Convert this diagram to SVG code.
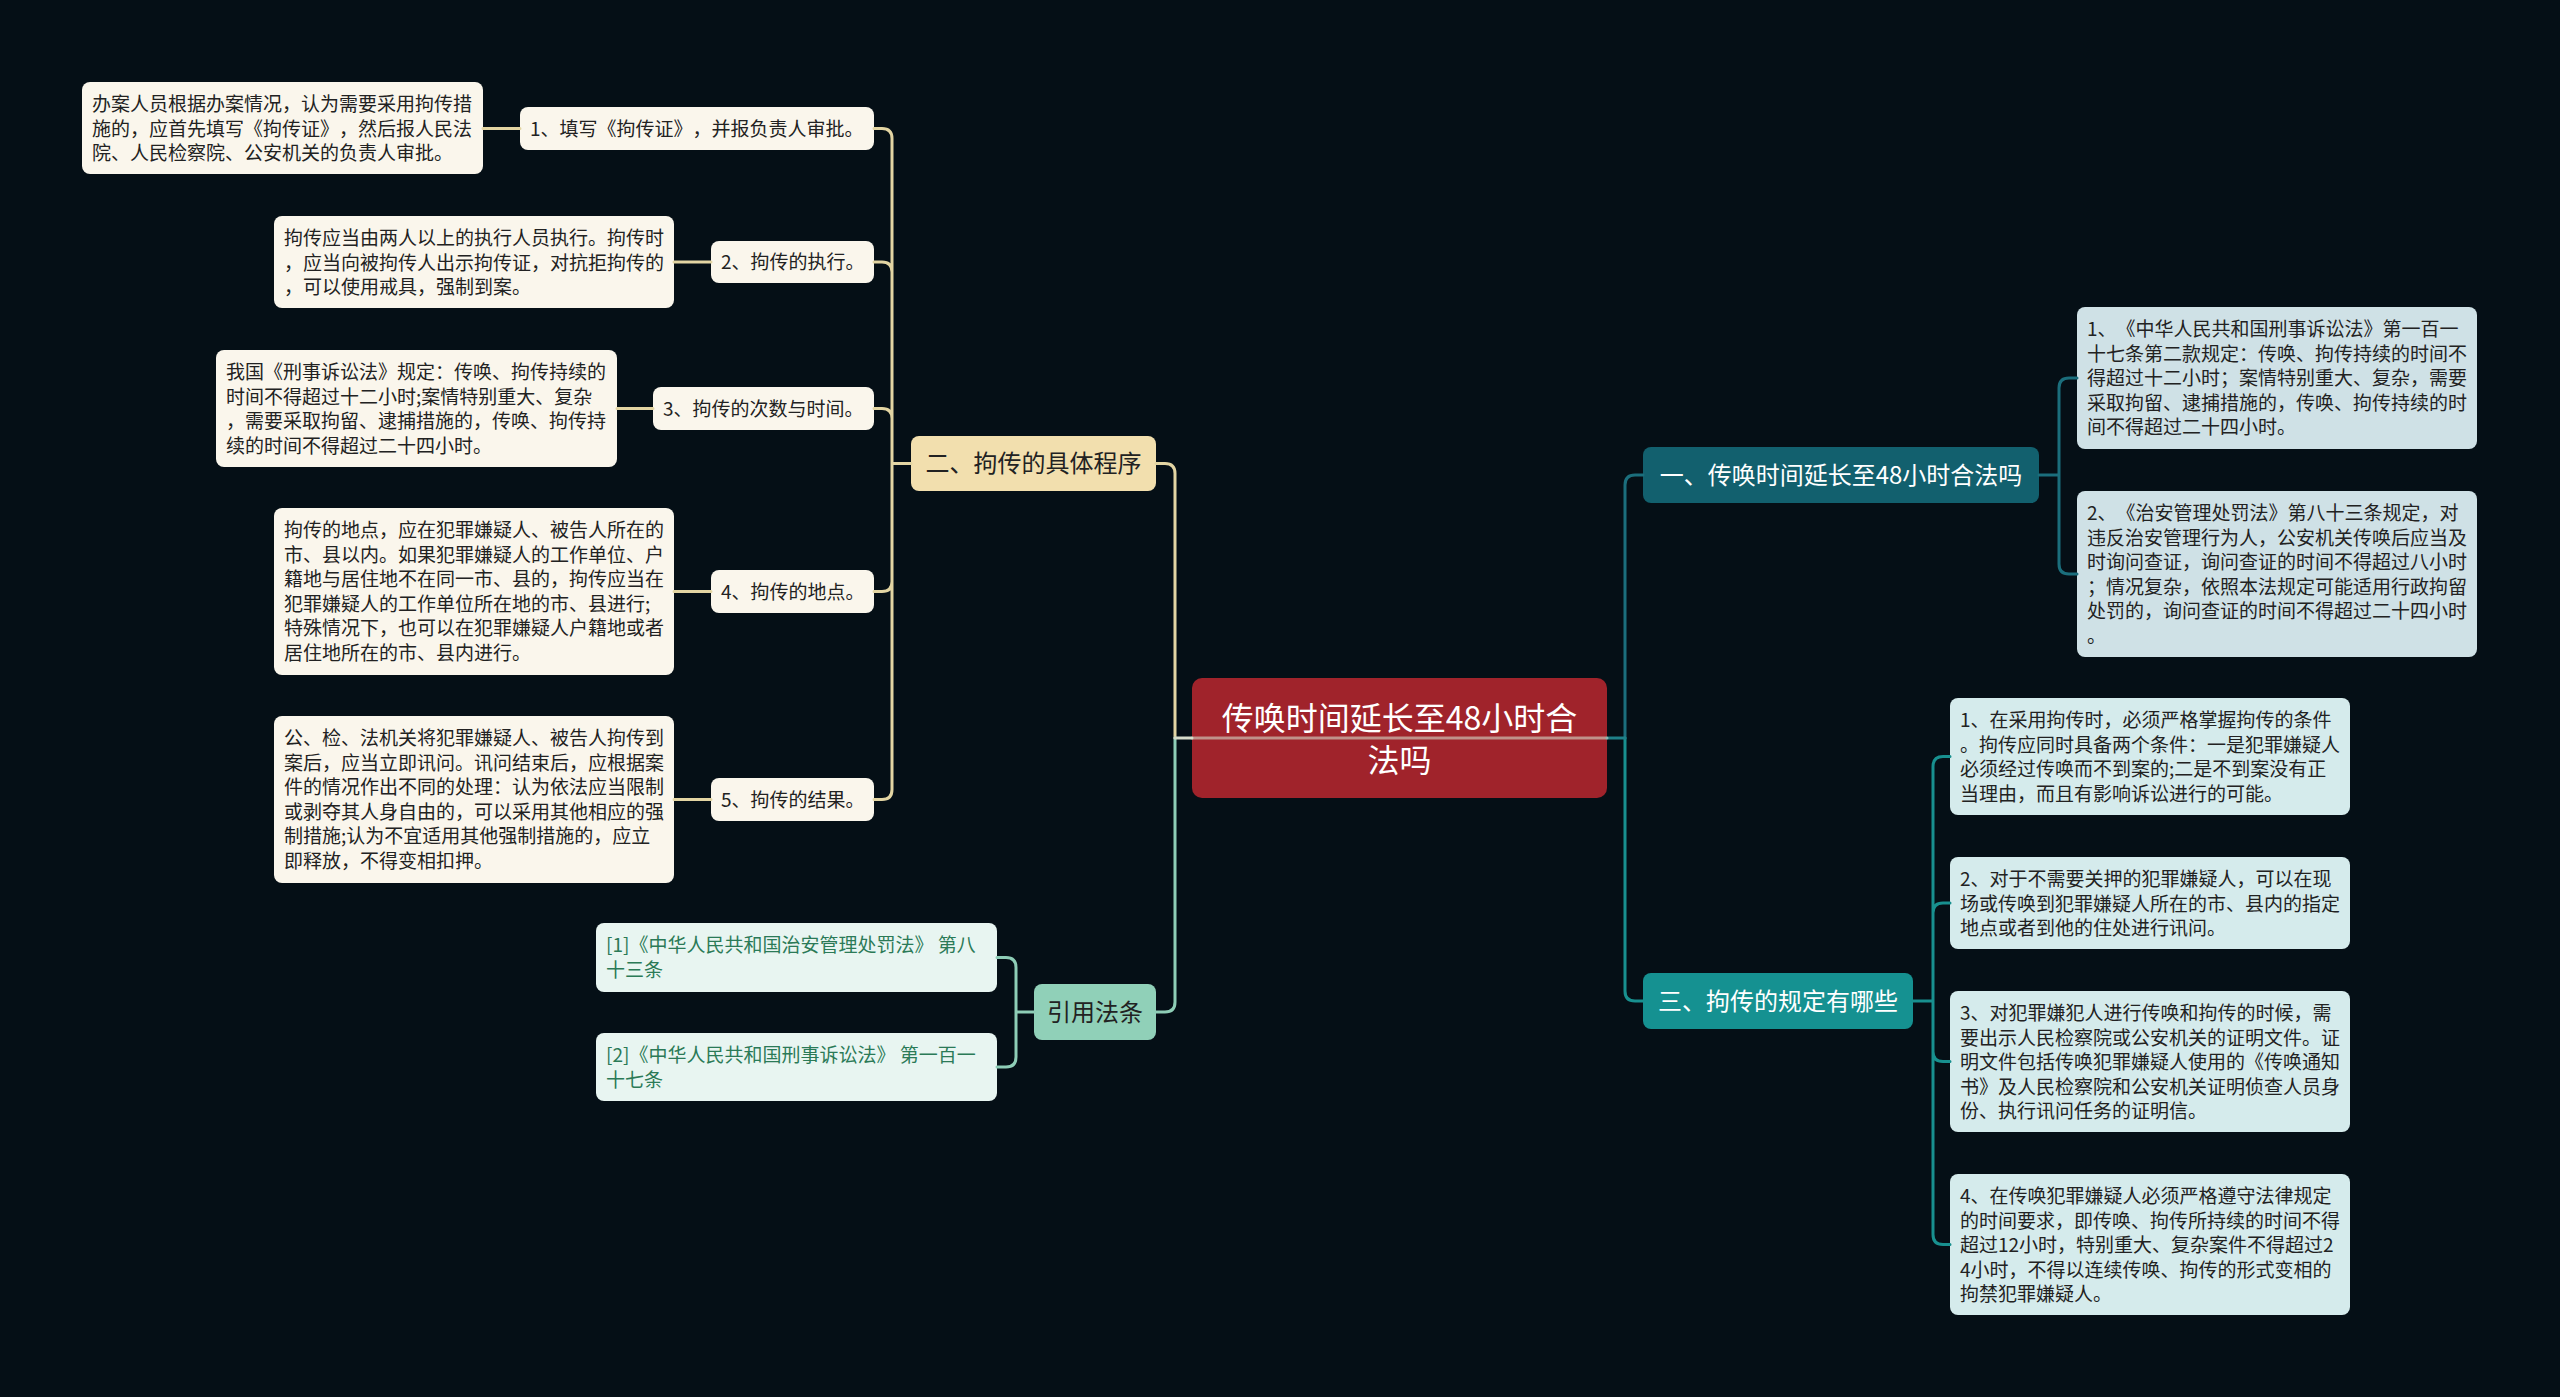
<svg xmlns="http://www.w3.org/2000/svg" width="2560" height="1397" viewBox="0 0 2560 1397">
<style>
text{font-family:"Noto Sans CJK SC","Noto Sans",sans-serif;text-spacing-trim:space-all;}
.t19{font-size:19px;fill:#222;}
.t24{font-size:24px;fill:#222;}
.tw{font-size:24px;fill:#ffffff;}
.tl{font-size:19px;fill:#2b7a57;}
.cream{fill:#faf6ec;}
.wheat{fill:#f2dfae;}
.blue1{fill:#cfe1e6;}
.blue2{fill:#d5ebec;}
.mint{fill:#e8f5f1;}
.c{fill:none;stroke-width:3;stroke-linecap:round;}
.beige{stroke:#e3d5a3;}
.green{stroke:#8ecdb6;}
.dteal{stroke:#1b6e7c;}
.teal{stroke:#18908f;}
</style>
<rect x="0" y="0" width="2560" height="1397" fill="#050f16"/>

<g id="node-A"><rect class="cream" x="82" y="82" width="401" height="92" rx="8"/>
<text class="t19"><tspan x="92" y="111">办案人员根据办案情况，认为需要采用拘传措</tspan><tspan x="92" y="135.5">施的，应首先填写《拘传证》，然后报人民法</tspan><tspan x="92" y="160">院、人民检察院、公安机关的负责人审批。</tspan></text></g>
<g id="node-n1"><rect class="cream" x="520" y="107" width="354" height="43" rx="8"/>
<text class="t19" x="530" y="135.5">1、填写《拘传证》，并报负责人审批。</text></g>

<g id="node-B"><rect class="cream" x="274" y="216" width="400" height="92" rx="8"/>
<text class="t19"><tspan x="284" y="245">拘传应当由两人以上的执行人员执行。拘传时</tspan><tspan x="284" y="269.5">，应当向被拘传人出示拘传证，对抗拒拘传的</tspan><tspan x="284" y="294">，可以使用戒具，强制到案。</tspan></text></g>
<g id="node-n2"><rect class="cream" x="711" y="241" width="163" height="42" rx="8"/>
<text class="t19" x="721" y="269">2、拘传的执行。</text></g>

<g id="node-C"><rect class="cream" x="216" y="350" width="401" height="117" rx="8"/>
<text class="t19"><tspan x="226" y="379">我国《刑事诉讼法》规定：传唤、拘传持续的</tspan><tspan x="226" y="403.5">时间不得超过十二小时;案情特别重大、复杂</tspan><tspan x="226" y="428">，需要采取拘留、逮捕措施的，传唤、拘传持</tspan><tspan x="226" y="452.5">续的时间不得超过二十四小时。</tspan></text></g>
<g id="node-n3"><rect class="cream" x="653" y="387" width="221" height="43" rx="8"/>
<text class="t19" x="663" y="415.5">3、拘传的次数与时间。</text></g>

<g id="node-D"><rect class="cream" x="274" y="508" width="400" height="167" rx="8"/>
<text class="t19"><tspan x="284" y="537">拘传的地点，应在犯罪嫌疑人、被告人所在的</tspan><tspan x="284" y="561.5">市、县以内。如果犯罪嫌疑人的工作单位、户</tspan><tspan x="284" y="586">籍地与居住地不在同一市、县的，拘传应当在</tspan><tspan x="284" y="610.5">犯罪嫌疑人的工作单位所在地的市、县进行;</tspan><tspan x="284" y="635">特殊情况下，也可以在犯罪嫌疑人户籍地或者</tspan><tspan x="284" y="659.5">居住地所在的市、县内进行。</tspan></text></g>
<g id="node-n4"><rect class="cream" x="711" y="570" width="163" height="43" rx="8"/>
<text class="t19" x="721" y="598.5">4、拘传的地点。</text></g>

<g id="node-E"><rect class="cream" x="274" y="716" width="400" height="167" rx="8"/>
<text class="t19"><tspan x="284" y="745">公、检、法机关将犯罪嫌疑人、被告人拘传到</tspan><tspan x="284" y="769.5">案后，应当立即讯问。讯问结束后，应根据案</tspan><tspan x="284" y="794">件的情况作出不同的处理：认为依法应当限制</tspan><tspan x="284" y="818.5">或剥夺其人身自由的，可以采用其他相应的强</tspan><tspan x="284" y="843">制措施;认为不宜适用其他强制措施的，应立</tspan><tspan x="284" y="867.5">即释放，不得变相扣押。</tspan></text></g>
<g id="node-n5"><rect class="cream" x="711" y="778" width="163" height="43" rx="8"/>
<text class="t19" x="721" y="806.5">5、拘传的结果。</text></g>

<g id="node-two"><rect class="wheat" x="911" y="436" width="245" height="55" rx="8"/>
<text class="t24" x="1033.5" y="472" text-anchor="middle">二、拘传的具体程序</text></g>

<g id="node-L1"><rect class="mint" x="596" y="923" width="401" height="69" rx="8"/>
<text class="tl"><tspan x="606" y="952">[1]《中华人民共和国治安管理处罚法》 第八</tspan><tspan x="606" y="976.5">十三条</tspan></text></g>
<g id="node-L2"><rect class="mint" x="596" y="1033" width="401" height="68" rx="8"/>
<text class="tl"><tspan x="606" y="1062">[2]《中华人民共和国刑事诉讼法》 第一百一</tspan><tspan x="606" y="1086.5">十七条</tspan></text></g>
<g id="node-cite"><rect fill="#90d0b8" x="1034" y="984" width="122" height="56" rx="8"/>
<text class="t24" x="1095" y="1020.5" text-anchor="middle">引用法条</text></g>

<g id="node-root"><rect fill="#a0232b" x="1192" y="678" width="415" height="120" rx="10"/>
<text font-size="32" fill="#ffffff" text-anchor="middle"><tspan x="1399.5" y="730">传唤时间延长至48小时合</tspan><tspan x="1399.5" y="772">法吗</tspan></text></g>

<g id="node-one"><rect fill="#12606e" x="1643" y="447" width="396" height="56" rx="8"/>
<text class="tw" x="1841" y="483.5" text-anchor="middle">一、传唤时间延长至48小时合法吗</text></g>
<g id="node-R1"><rect class="blue1" x="2077" y="307" width="400" height="142" rx="8"/>
<text class="t19"><tspan x="2087" y="336">1、《中华人民共和国刑事诉讼法》第一百一</tspan><tspan x="2087" y="360.5">十七条第二款规定：传唤、拘传持续的时间不</tspan><tspan x="2087" y="385">得超过十二小时；案情特别重大、复杂，需要</tspan><tspan x="2087" y="409.5">采取拘留、逮捕措施的，传唤、拘传持续的时</tspan><tspan x="2087" y="434">间不得超过二十四小时。</tspan></text></g>
<g id="node-R2"><rect class="blue1" x="2077" y="491" width="400" height="166" rx="8"/>
<text class="t19"><tspan x="2087" y="520">2、《治安管理处罚法》第八十三条规定，对</tspan><tspan x="2087" y="544.5">违反治安管理行为人，公安机关传唤后应当及</tspan><tspan x="2087" y="569">时询问查证，询问查证的时间不得超过八小时</tspan><tspan x="2087" y="593.5">；情况复杂，依照本法规定可能适用行政拘留</tspan><tspan x="2087" y="618">处罚的，询问查证的时间不得超过二十四小时</tspan><tspan x="2087" y="642.5">。</tspan></text></g>

<g id="node-three"><rect fill="#159191" x="1643" y="973" width="270" height="56" rx="8"/>
<text class="tw" x="1778" y="1009.5" text-anchor="middle">三、拘传的规定有哪些</text></g>
<g id="node-R3"><rect class="blue2" x="1950" y="698" width="400" height="117" rx="8"/>
<text class="t19"><tspan x="1960" y="727">1、在采用拘传时，必须严格掌握拘传的条件</tspan><tspan x="1960" y="751.5">。拘传应同时具备两个条件：一是犯罪嫌疑人</tspan><tspan x="1960" y="776">必须经过传唤而不到案的;二是不到案没有正</tspan><tspan x="1960" y="800.5">当理由，而且有影响诉讼进行的可能。</tspan></text></g>
<g id="node-R4"><rect class="blue2" x="1950" y="857" width="400" height="92" rx="8"/>
<text class="t19"><tspan x="1960" y="886">2、对于不需要关押的犯罪嫌疑人，可以在现</tspan><tspan x="1960" y="910.5">场或传唤到犯罪嫌疑人所在的市、县内的指定</tspan><tspan x="1960" y="935">地点或者到他的住处进行讯问。</tspan></text></g>
<g id="node-R5"><rect class="blue2" x="1950" y="991" width="400" height="141" rx="8"/>
<text class="t19"><tspan x="1960" y="1020">3、对犯罪嫌犯人进行传唤和拘传的时候，需</tspan><tspan x="1960" y="1044.5">要出示人民检察院或公安机关的证明文件。证</tspan><tspan x="1960" y="1069">明文件包括传唤犯罪嫌疑人使用的《传唤通知</tspan><tspan x="1960" y="1093.5">书》及人民检察院和公安机关证明侦查人员身</tspan><tspan x="1960" y="1118">份、执行讯问任务的证明信。</tspan></text></g>
<g id="node-R6"><rect class="blue2" x="1950" y="1174" width="400" height="141" rx="8"/>
<text class="t19"><tspan x="1960" y="1203">4、在传唤犯罪嫌疑人必须严格遵守法律规定</tspan><tspan x="1960" y="1227.5">的时间要求，即传唤、拘传所持续的时间不得</tspan><tspan x="1960" y="1252">超过12小时，特别重大、复杂案件不得超过2</tspan><tspan x="1960" y="1276.5">4小时，不得以连续传唤、拘传的形式变相的</tspan><tspan x="1960" y="1301">拘禁犯罪嫌疑人。</tspan></text></g>

<g id="connectors">
<path class="c beige" d="M483,128.5 H520 M674,262 H711 M617,408.5 H653 M674,591.5 H711 M674,799.5 H711"/>
<path class="c beige" d="M911,463.5 H892 M892,463.5 V138.5 Q892,128.5 882,128.5 H874 M892,463.5 V272 Q892,262 882,262 H874 M892,463.5 V418.5 Q892,408.5 882,408.5 H874 M892,463.5 V581.5 Q892,591.5 882,591.5 H874 M892,463.5 V789.5 Q892,799.5 882,799.5 H874"/>
<path class="c green" d="M1034,1012 H1016 M1016,1012 V967.5 Q1016,957.5 1006,957.5 H997 M1016,1012 V1057 Q1016,1067 1006,1067 H997"/>
<path class="c beige" d="M1175,738 V473.5 Q1175,463.5 1165,463.5 H1156"/>
<path class="c green" d="M1175,738 V1002 Q1175,1012 1165,1012 H1156"/>
<path class="c dteal" d="M1625,738 V485 Q1625,475 1635,475 H1643"/>
<path class="c teal" d="M1625,738 V991 Q1625,1001 1635,1001 H1643"/>
<path class="c dteal" d="M2039,475 H2059 M2059,475 V388 Q2059,378 2069,378 H2077 M2059,475 V564 Q2059,574 2069,574 H2077"/>
<path class="c teal" d="M1913,1001 H1933 M1933,1001 V766.5 Q1933,756.5 1943,756.5 H1950 M1933,1001 V913 Q1933,903 1943,903 H1950 M1933,1001 V1051.5 Q1933,1061.5 1943,1061.5 H1950 M1933,1001 V1234.5 Q1933,1244.5 1943,1244.5 H1950"/>
<path class="c" stroke="#d6dccb" d="M1175,738 H1192"/>
<path class="c" stroke="#1f8088" d="M1607,738 H1625"/>
<path class="c" stroke="#d6dccb" stroke-opacity="0.6" d="M1192,738 H1607"/>
</g>
</svg>
